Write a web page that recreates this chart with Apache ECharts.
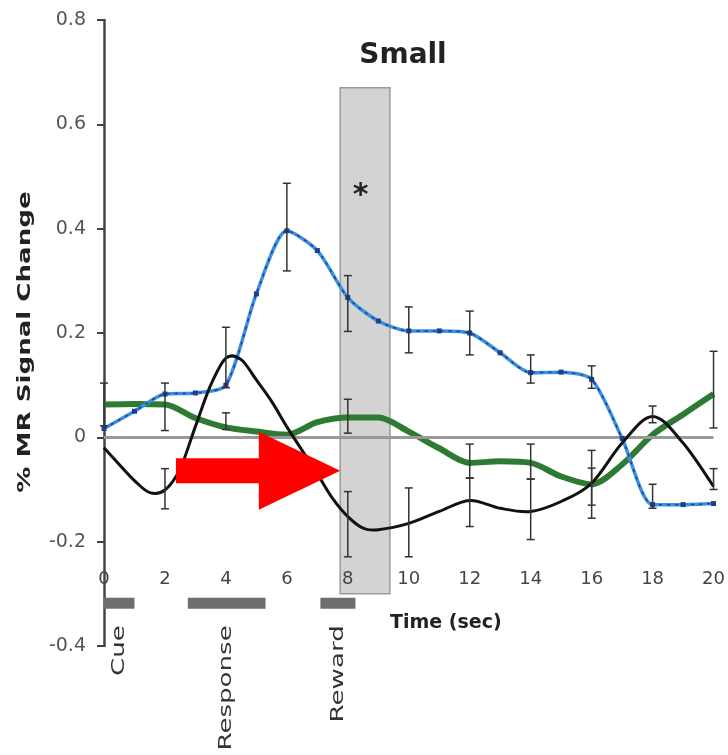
<!DOCTYPE html>
<html><head><meta charset="utf-8">
<script src="https://cdn.jsdelivr.net/npm/echarts@6/dist/echarts.min.js"></script>
<style>html,body{margin:0;padding:0;background:#fff}#c{width:728px;height:755px}</style>
</head><body><div id="c"></div>
<script>
// ---- data ----
const seconds = [0,1,2,3,4,5,6,7,8,9,10,11,12,13,14,15,16,17,18,19,20];
const blueValues  = [0.017,0.05,0.083,0.085,0.10,0.275,0.396,0.358,0.268,0.223,0.204,0.204,0.2,0.162,0.124,0.125,0.111,-0.002,-0.129,-0.129,-0.127];
const greenValues = [0.063,0.064,0.063,0.037,0.019,0.011,0.005,0.029,0.038,0.038,0.011,-0.021,-0.049,-0.046,-0.049,-0.075,-0.09,-0.052,0.005,0.044,0.083];
const blackTimes  = [0,0.5,1,1.5,2,2.5,3,3.5,4,4.5,5,5.5,6,6.5,7,7.5,8,8.5,9,10,11,12,13,14,15,16,17,18,19,20];
const blackValues = [-0.02,-0.052,-0.083,-0.106,-0.101,-0.06,0.021,0.1,0.152,0.149,0.11,0.069,0.02,-0.025,-0.07,-0.117,-0.152,-0.174,-0.177,-0.165,-0.142,-0.121,-0.136,-0.142,-0.123,-0.088,-0.011,0.04,-0.011,-0.094];
// error bars: [time, low, high]
const errorBars = [
  [0,0.022,0.104],
  [2,0.013,0.104],[2,-0.137,-0.06],
  [4,0.095,0.211],[4,0.015,0.047],
  [6,0.319,0.487],
  [8,0.203,0.31],[8,0.008,0.073],[8,-0.229,-0.104],
  [10,0.162,0.25],[10,-0.229,-0.097],
  [12,0.158,0.242],[12,-0.078,-0.013],[12,-0.171,-0.078],
  [14,0.104,0.158],[14,-0.08,-0.013],[14,-0.196,-0.08],
  [16,0.094,0.137],[16,-0.13,-0.025],[16,-0.155,-0.059],
  [18,0.028,0.06],[18,-0.136,-0.09],
  [20,0.018,0.165],[20,-0.1,-0.06]
];
const eventNames  = ['Cue','Response','Reward'];
const eventStart  = [0, 2.75, 7.1];
const eventEnd    = [1, 5.3, 8.25];
const eventLevel  = -0.318;
const rewardWindow = [7.75, 9.38, -0.3, 0.67]; // x0, x1, y0, y1
const starPoint = [8.42, 0.463];
const arrowTail = [2.36, -0.064];
const arrowHeadStartX = 5.08;
const arrowTipX = 7.75;
const yMin = -0.4, yMax = 0.8, yStep = 0.2;
const xMin = 0, xMax = 20, xStep = 2;

const FONT = 'DejaVu Sans';
const pair = (xs, ys) => xs.map((s,i)=>[s,ys[i]]);

// smooth curve path (Catmull-Rom -> cubic Bezier) through points mapped by the axes
function smoothPath(pts){
  let d = 'M' + pts[0][0] + ' ' + pts[0][1];
  for (let i = 0; i < pts.length - 1; i++) {
    const p0 = pts[Math.max(0, i-1)], p1 = pts[i], p2 = pts[i+1], p3 = pts[Math.min(pts.length-1, i+2)];
    const c1x = p1[0] + (p2[0]-p0[0])/6, c1y = p1[1] + (p2[1]-p0[1])/6;
    const c2x = p2[0] - (p3[0]-p1[0])/6, c2y = p2[1] - (p3[1]-p1[1])/6;
    d += ' C' + c1x + ' ' + c1y + ' ' + c2x + ' ' + c2y + ' ' + p2[0] + ' ' + p2[1];
  }
  return d;
}

const chart = echarts.init(document.getElementById('c'), null, {renderer:'canvas'});
chart.setOption({
  animation:false,
  backgroundColor:'#fff',
  grid:{left:104, right:6, top:20, bottom:109},
  xAxis:{type:'value', min:xMin, max:xMax, interval:xStep, offset:-84, z:20,
    axisLine:{show:false}, axisTick:{show:false}, splitLine:{show:false},
    axisLabel:{fontFamily:FONT, fontSize:18, color:'#444', margin:8}},
  yAxis:{type:'value', min:yMin, max:yMax, interval:yStep,
    axisLine:{show:true, lineStyle:{color:'#444', width:2.5}},
    axisTick:{show:true, inside:false, length:7, lineStyle:{color:'#444', width:2}},
    splitLine:{show:false},
    axisLabel:{fontFamily:FONT, fontSize:19, color:'#555', margin:18,
      formatter:v=>Math.abs(v)<1e-9?'0':v.toFixed(1)}},
  graphic:[
    {type:'text', x:403, y:56, z:100, style:{text:'Small', fontFamily:FONT, fontSize:28, fontWeight:'bold', fill:'#222', align:'center', verticalAlign:'middle'}},
    {type:'text', x:25, y:342, rotation:Math.PI/2, scaleX:1.45, z:100, style:{text:'% MR Signal Change', fontFamily:FONT, fontSize:18, fontWeight:'bold', fill:'#222', align:'center', verticalAlign:'middle'}},
    {type:'text', x:390, y:623, z:100, style:{text:'Time (sec)', fontFamily:FONT, fontSize:19, fontWeight:'bold', fill:'#222', align:'left', verticalAlign:'middle'}}
  ],
  series:[
    { // reward window shading
      type:'line', data:[], z:1, silent:true,
      markArea:{silent:true, itemStyle:{color:'#d3d3d3', borderColor:'#999', borderWidth:1.5},
        data:[[{xAxis:rewardWindow[0], yAxis:rewardWindow[3]},{xAxis:rewardWindow[1], yAxis:rewardWindow[2]}]]}
    },
    { // zero line
      type:'line', data:[], z:2, silent:true,
      markLine:{silent:true, symbol:['none','none'], label:{show:false},
        lineStyle:{color:'#999', width:3, type:'solid'}, data:[{yAxis:0}]}
    },
    {type:'line', name:'green', data:pair(seconds, greenValues), z:3, smooth:0.3, symbol:'none',
      lineStyle:{color:'#2e7a33', width:6}},
    {type:'line', name:'blue', data:pair(seconds, blueValues), z:4, smooth:0.25, symbol:'none',
      lineStyle:{color:'#3a90e0', width:3.5}},
    {type:'line', name:'blueDots', data:pair(seconds, blueValues), z:5, smooth:0.25, symbol:'rect', symbolSize:5,
      itemStyle:{color:'#1d3f8c'}, lineStyle:{color:'#1d3f8c', width:1.5, type:[3,5]}},
    { // black curve (smooth spline through the data via the axes)
      type:'custom', name:'black', z:6, data:pair(blackTimes, blackValues),
      renderItem:(params, api)=>{
        if (params.dataIndex !== 0) return null;
        const pts = blackTimes.map((t,i)=>api.coord([t, blackValues[i]]));
        return {type:'path', shape:{pathData:smoothPath(pts)},
          style:{fill:null, stroke:'#111', lineWidth:3, lineJoin:'round'}};
      }
    },
    { // error bars
      type:'custom', z:7, data:errorBars,
      renderItem:(params, api)=>{
        const x=api.value(0), lo=api.value(1), hi=api.value(2);
        const a=api.coord([x,hi]), b=api.coord([x,lo]); const w=4;
        const st={stroke:'#333', lineWidth:1.5};
        return {type:'group', children:[
          {type:'line', shape:{x1:a[0],y1:a[1],x2:b[0],y2:b[1]}, style:st},
          {type:'line', shape:{x1:a[0]-w,y1:a[1],x2:a[0]+w,y2:a[1]}, style:st},
          {type:'line', shape:{x1:b[0]-w,y1:b[1],x2:b[0]+w,y2:b[1]}, style:st}
        ]};
      }
    },
    { // event bars and labels
      type:'custom', z:8, data:eventNames.map((n,i)=>[eventStart[i], eventEnd[i], eventLevel]),
      renderItem:(params, api)=>{
        const a=api.coord([api.value(0), api.value(2)]), b=api.coord([api.value(1), api.value(2)]);
        const cx=(a[0]+b[0])/2;
        return {type:'group', children:[
          {type:'rect', shape:{x:a[0], y:a[1]-5.5, width:b[0]-a[0], height:11}, style:{fill:'#6e6e6e'}},
          {type:'text', x:cx, y:a[1]+22, rotation:Math.PI/2, scaleX:1.45,
            style:{text:eventNames[params.dataIndex], fontFamily:FONT, fontSize:18, fill:'#333', align:'right', verticalAlign:'middle'}}
        ]};
      }
    },
    { // star
      type:'custom', z:9, data:[starPoint],
      renderItem:(params, api)=>{
        const p=api.coord([api.value(0), api.value(1)]);
        return {type:'text', x:p[0], y:p[1], style:{text:'*', fontFamily:FONT, fontSize:30, fontWeight:'bold', fill:'#222', align:'center', verticalAlign:'middle'}};
      }
    },
    { // red arrow
      type:'custom', z:10, data:[[arrowTail[0], arrowTail[1]]],
      renderItem:(params, api)=>{
        const y=api.value(1);
        const t=api.coord([api.value(0), y]), h=api.coord([arrowHeadStartX, y]), p=api.coord([arrowTipX, y]);
        const cy=t[1];
        return {type:'polygon', shape:{points:[[t[0],cy-12.5],[h[0],cy-12.5],[h[0],cy-39],[p[0],cy],[h[0],cy+39],[h[0],cy+12.5],[t[0],cy+12.5]]},
          style:{fill:'#ff0000'}};
      }
    }
  ]
});
</script></body></html>
